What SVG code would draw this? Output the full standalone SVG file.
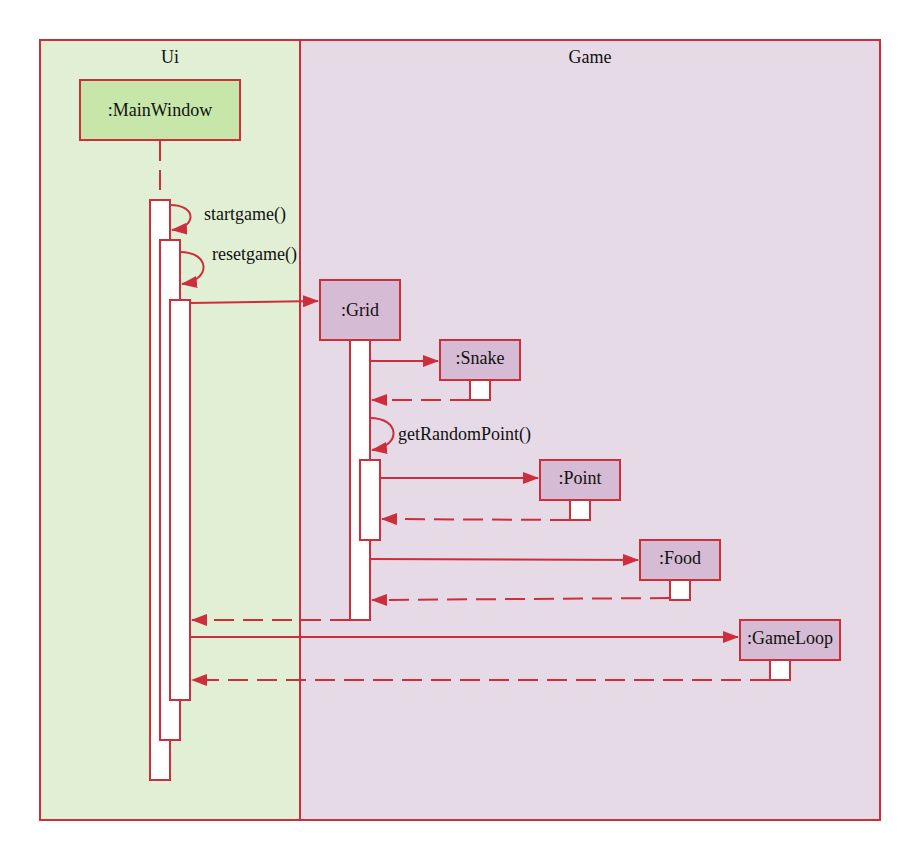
<svg xmlns="http://www.w3.org/2000/svg" width="920" height="860" viewBox="0 0 920 860">
<style>
.frame{stroke:#cc2e3c;stroke-width:2}
.box{fill:#d5bbd3;stroke:#cc2e3c;stroke-width:2}
.act{fill:#ffffff;stroke:#cc2e3c;stroke-width:2}
.msg{fill:none;stroke:#cc2e3c;stroke-width:2}
.ret{fill:none;stroke:#cc2e3c;stroke-width:2;stroke-dasharray:20,9}
text{font-family:"Liberation Serif","DejaVu Serif",serif;font-size:18px;fill:#111}
.c{text-anchor:middle}
</style>
<defs>
<marker id="ah" viewBox="0 0 16 12" refX="15" refY="6" markerWidth="16" markerHeight="12" markerUnits="userSpaceOnUse" orient="auto">
<path d="M0,0 L16,6 L0,12 Z" fill="#cc2e3c"/>
</marker>
</defs>
<rect width="920" height="860" fill="#ffffff"/>
<g id="ui-pane">
<rect class="frame" x="40" y="40" width="260" height="780" fill="#e1f0d4"/>
<text class="c" x="170" y="63">Ui</text>
</g>
<g id="game-pane">
<rect class="frame" x="300" y="40" width="580" height="780" fill="#e6dae6"/>
<text class="c" x="590" y="63">Game</text>
</g>
<g id="mainwindow">
<rect x="80" y="80" width="160" height="60" fill="#c6e7a9" stroke="#cc2e3c" stroke-width="2"/>
<text class="c" x="160" y="116">:MainWindow</text>
<line class="ret" x1="160" y1="141" x2="160" y2="200" stroke-dasharray="12,8"/>
<rect class="act" x="150" y="200" width="20" height="580"/>
<rect class="act" x="160" y="240" width="20" height="500"/>
<rect class="act" x="170" y="300" width="20" height="400"/>
</g>
<g id="grid">
<rect class="box" x="320" y="280" width="80" height="60"/>
<text class="c" x="360" y="316">:Grid</text>
<rect class="act" x="350" y="340" width="20" height="280"/>
<rect class="act" x="360" y="460" width="20" height="80"/>
</g>
<g id="snake">
<rect class="box" x="440" y="340" width="80" height="40"/>
<text class="c" x="480" y="364">:Snake</text>
<rect class="act" x="470" y="380" width="20" height="20"/>
</g>
<g id="point">
<rect class="box" x="540" y="460" width="80" height="40"/>
<text class="c" x="580" y="484">:Point</text>
<rect class="act" x="570" y="500" width="20" height="20"/>
</g>
<g id="food">
<rect class="box" x="640" y="540" width="80" height="40"/>
<text class="c" x="680" y="564">:Food</text>
<rect class="act" x="670" y="580" width="20" height="20"/>
</g>
<g id="gameloop">
<rect class="box" x="740" y="620" width="100" height="40"/>
<text class="c" x="790" y="644">:GameLoop</text>
<rect class="act" x="770" y="660" width="20" height="20"/>
</g>
<g id="connectors">
<path class="msg" d="M170,205 C198,205 196,228 172,230" marker-end="url(#ah)"/>
<text x="204" y="220">startgame()</text>
<path class="msg" d="M180,252 C210,252 212,280 182,284" marker-end="url(#ah)"/>
<text x="212" y="260">resetgame()</text>
<line class="msg" x1="190" y1="303" x2="318" y2="301" marker-end="url(#ah)"/>
<line class="msg" x1="370" y1="361" x2="438" y2="361" marker-end="url(#ah)"/>
<line class="ret" x1="470" y1="400" x2="372" y2="400" marker-end="url(#ah)"/>
<path class="msg" d="M370,418 C400,418 402,446 372,450" marker-end="url(#ah)"/>
<text x="398" y="440">getRandomPoint()</text>
<line class="msg" x1="380" y1="478" x2="538" y2="478" marker-end="url(#ah)"/>
<line class="ret" x1="570" y1="520" x2="382" y2="519" marker-end="url(#ah)"/>
<line class="msg" x1="370" y1="559" x2="638" y2="560" marker-end="url(#ah)"/>
<line class="ret" x1="670" y1="598" x2="372" y2="600" marker-end="url(#ah)"/>
<line class="ret" x1="350" y1="620" x2="192" y2="620" marker-end="url(#ah)"/>
<line class="msg" x1="190" y1="637" x2="738" y2="637" marker-end="url(#ah)"/>
<line class="ret" x1="770" y1="680" x2="192" y2="680" marker-end="url(#ah)"/>
</g>
</svg>
